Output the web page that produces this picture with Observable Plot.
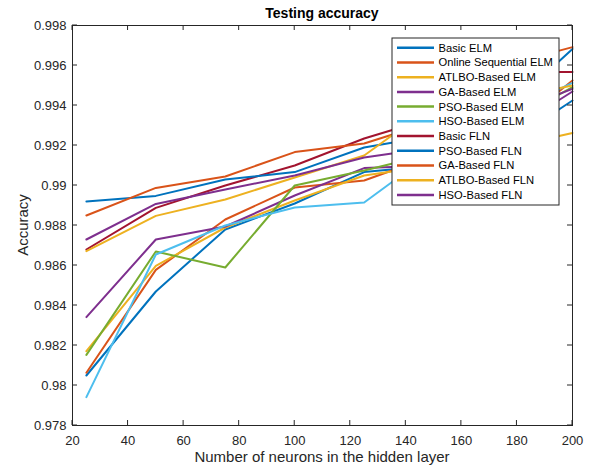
<!DOCTYPE html>
<html><head><meta charset="utf-8">
<script src="https://cdn.jsdelivr.net/npm/d3@7"></script>
<script src="https://cdn.jsdelivr.net/npm/@observablehq/plot@0.6"></script>
<style>
body{margin:0;background:#fff;}
#chart{width:590px;height:470px;}
</style>
</head><body><div id="chart"></div>
<script>
const neurons = [25, 50, 75, 100, 125, 150, 175, 200];
const seriesNames = ["Basic ELM","Online Sequential ELM","ATLBO-Based ELM","GA-Based ELM","PSO-Based ELM","HSO-Based ELM","Basic FLN","PSO-Based FLN","GA-Based FLN","ATLBO-Based FLN","HSO-Based FLN"];
const seriesColors = ["#0072BD","#D95319","#EDB120","#7E2F8E","#77AC30","#4DBEEE","#A2142F","#0072BD","#D95319","#EDB120","#7E2F8E"];
const basicELM    = [0.9805, 0.9847, 0.9878, 0.9891, 0.99067, 0.9910, 0.99195, 0.99425];
const osELM       = [0.98064, 0.98578, 0.9883, 0.9899, 0.99025, 0.9915, 0.99245, 0.99525];
const atlboELM    = [0.98172, 0.98598, 0.9879, 0.98925, 0.9905, 0.9910, 0.99185, 0.99263];
const gaELM       = [0.98342, 0.9873, 0.98795, 0.9895, 0.99087, 0.9910, 0.9925, 0.9947];
const psoELM      = [0.98153, 0.9867, 0.9859, 0.9900, 0.99075, 0.9916, 0.9930, 0.99492];
const hsoELM      = [0.97942, 0.98655, 0.9880, 0.9889, 0.98915, 0.9917, 0.9935, 0.99513];
const basicFLN    = [0.9868, 0.98888, 0.9900, 0.9910, 0.99235, 0.9934, 0.99567, 0.99567];
const psoFLN      = [0.9892, 0.98948, 0.9903, 0.99067, 0.9919, 0.9925, 0.99365, 0.99683];
const gaFLN       = [0.9885, 0.98988, 0.99045, 0.99167, 0.9921, 0.9932, 0.9960, 0.99692];
const atlboFLN    = [0.98672, 0.98848, 0.9893, 0.9904, 0.9915, 0.9940, 0.9943, 0.9950];
const hsoFLN      = [0.9873, 0.98908, 0.9898, 0.9905, 0.9914, 0.9919, 0.9935, 0.99483];
const seriesValues = [basicELM, osELM, atlboELM, gaELM, psoELM, hsoELM, basicFLN, psoFLN, gaFLN, atlboFLN, hsoFLN];
const xTicks = [20, 40, 60, 80, 100, 120, 140, 160, 180, 200];
const yTicks = [0.978, 0.980, 0.982, 0.984, 0.986, 0.988, 0.990, 0.992, 0.994, 0.996, 0.998];
const titleText = "Testing accuracy";
const xLabel = "Number of neurons in the hidden layer";
const yLabel = "Accuracy";

const table = [];
seriesNames.forEach((name, i) => {
  seriesValues[i].forEach((v, j) => table.push({series: name, n: neurons[j], acc: v}));
});

const font = "'Liberation Sans', Arial, Helvetica, sans-serif";
const ink = "#262626";

const chart = Plot.plot({
  width: 590, height: 470,
  marginLeft: 72, marginRight: 18, marginTop: 25, marginBottom: 45,
  style: {fontFamily: font, fontSize: "13px", color: ink, background: "#fff"},
  x: {domain: [20, 200]},
  y: {domain: [0.978, 0.998]},
  color: {domain: seriesNames, range: seriesColors},
  marks: [
    Plot.lineY(table, {x: "n", y: "acc", z: "series", stroke: "series", strokeWidth: 2}),
    Plot.frame({stroke: ink, strokeWidth: 1}),
    Plot.axisX({ticks: xTicks, tickSize: 0, tickPadding: 10, label: null, tickFormat: d => String(d)}),
    Plot.axisY({ticks: yTicks, tickSize: 0, tickPadding: 6, label: null, tickFormat: d => String(+d.toFixed(3))})
  ]
});
document.getElementById("chart").appendChild(chart);

const svg = d3.select(chart);
const sx = chart.scale("x"), sy = chart.scale("y");
const L = 72, R = 572, T = 25, B = 425, tk = 5;
const tg = svg.append("g").attr("stroke", ink).attr("stroke-width", 1);
xTicks.forEach(v => {
  const px = sx.apply(v);
  tg.append("line").attr("x1", px).attr("x2", px).attr("y1", B).attr("y2", B - tk);
  tg.append("line").attr("x1", px).attr("x2", px).attr("y1", T).attr("y2", T + tk);
});
yTicks.forEach(v => {
  const py = sy.apply(v);
  tg.append("line").attr("x1", L).attr("x2", L + tk).attr("y1", py).attr("y2", py);
  tg.append("line").attr("x1", R).attr("x2", R - tk).attr("y1", py).attr("y2", py);
});

svg.append("text").attr("x", (L + R) / 2).attr("y", 18).attr("text-anchor", "middle")
  .attr("font-family", font).attr("font-size", 14).attr("font-weight", "bold").attr("fill", "#000").text(titleText);
svg.append("text").attr("x", (L + R) / 2).attr("y", 462).attr("text-anchor", "middle")
  .attr("font-family", font).attr("font-size", 15).attr("fill", ink).text(xLabel);
svg.append("text").attr("transform", `translate(28,${(T + B) / 2}) rotate(-90)`).attr("text-anchor", "middle")
  .attr("font-family", font).attr("font-size", 15).attr("fill", ink).text(yLabel);

// legend
const lg = svg.append("g").attr("text-anchor", "start");
const lx = 392, ly = 38, lw = 167, lh = 167, step = 14.73;
lg.append("rect").attr("x", lx).attr("y", ly).attr("width", lw).attr("height", lh)
  .attr("fill", "#fff").attr("stroke", ink).attr("stroke-width", 1);
seriesNames.forEach((name, i) => {
  const yy = 47.7 + i * step;
  lg.append("line").attr("x1", 397).attr("x2", 434).attr("y1", yy).attr("y2", yy)
    .attr("stroke", seriesColors[i]).attr("stroke-width", 2.5);
  lg.append("text").attr("x", 438.5).attr("y", yy).attr("dy", "0.35em").attr("text-anchor", "start")
    .attr("font-family", font).attr("font-size", 11.2).attr("fill", "#000").text(name);
});
</script>
</body></html>
